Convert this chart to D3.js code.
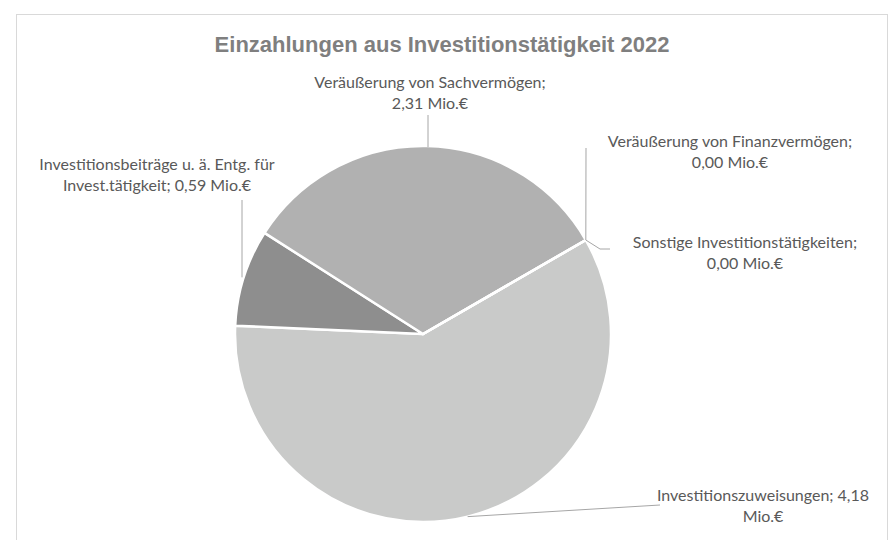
<!DOCTYPE html>
<html>
<head>
<meta charset="utf-8">
<script src="https://cdn.jsdelivr.net/npm/d3@7"></script>
<style>
  body { margin: 0; background: #fff; }
</style>
</head>
<body>
<div id="chart"></div>
<script>
/* Pie chart: Einzahlungen aus Investitionstätigkeit 2022 */

const categories = ["Investitionszuweisungen", "Investitionsbeiträge u. ä. Entg. für Invest.tätigkeit",
    "Veräußerung von Sachvermögen", "Veräußerung von Finanzvermögen", "Sonstige Investitionstätigkeiten"];
const values = [4.18, 0.59, 2.31, 0.00, 0.00];
const colors = ["#c9cac9", "#8e8e8e", "#b1b1b1", "#b9b9b9", "#a5a5a5"];
// label text lines for each slice
const labelLines = [
    ["Investitionszuweisungen; 4,18", "Mio.€"],
    ["Investitionsbeiträge u. ä. Entg. für", "Invest.tätigkeit; 0,59 Mio.€"],
    ["Veräußerung von Sachvermögen;", "2,31 Mio.€"],
    ["Veräußerung von Finanzvermögen;", "0,00 Mio.€"],
    ["Sonstige Investitionstätigkeiten;", "0,00 Mio.€"]
];

const width = 893, height = 540,
    cx = 423, cy = 334, radius = 188;

const data = categories.map((c, i) => ({name: c, value: values[i], lines: labelLines[i]}));

let svg = d3.select("#chart")
    .append("svg")
    .attr("width", width)
    .attr("height", height);

// chart frame
svg.append("rect")
    .attr("x", 16.5).attr("y", 14.5)
    .attr("width", 871).attr("height", 540)
    .attr("fill", "#fff")
    .attr("stroke", "#d9d9d9");

svg.append("text")
    .attr("x", 442).attr("y", 52)
    .attr("text-anchor", "middle")
    .attr("font-family", "Liberation Sans, Arial, sans-serif")
    .attr("font-weight", "bold")
    .attr("font-size", 22)
    .attr("fill", "#7f7f7f")
    .text("Einzahlungen aus Investitionstätigkeit 2022");

const start = 60 * Math.PI / 180;   // first slice angle, like excel
let pie = d3.pie()
    .sort(null)
    .value(d => d.value)
    .startAngle(start)
    .endAngle(start + 2 * Math.PI);

let arc = d3.arc().innerRadius(0).outerRadius(radius);

const arcs = pie(data);

let g = svg.append("g")
    .attr("transform", `translate(${cx},${cy})`);

g.selectAll("path")
    .data(arcs)
    .join("path")
    .attr("d", arc)
    .attr("fill", (d, i) => colors[i])
    .attr("stroke", "#fff")
    .attr("stroke-width", 2.5)
    .attr("stroke-linejoin", "round");

// label placement (label centre x, first baseline y) and leader end points
const labelPos = [
    {x: 763, y: 501, leader: [[660, 505]]},
    {x: 157, y: 170, leader: [[242, 200]]},
    {x: 430, y: 88, leader: [[428, 115]]},
    {x: 730, y: 147, leader: [[586, 148]]},
    {x: 745, y: 248, leader: [[600, 249], [610, 249]]}
];

const point = a => [cx + radius * Math.sin(a), cy - radius * Math.cos(a)];

arcs.forEach((d, i) => {
    const mid = (d.startAngle + d.endAngle) / 2;
    let p0 = point(mid);
    let pts = [p0].concat(labelPos[i].leader);
    if (i == 1) pts = [[242, p0[1]], [242, 200]];
    if (i == 2) pts = [[428, p0[1] + 1], [428, 115]];
    svg.append("path")
        .attr("d", d3.line()(pts))
        .attr("fill", "none")
        .attr("stroke", "#a6a6a6")
        .attr("stroke-width", 1);

    let t = svg.append("text")
        .attr("text-anchor", "middle")
        .attr("font-family", "Lato, sans-serif")
        .attr("font-size", 16)
        .attr("fill", "#595959");
    d.data.lines.forEach((l, j) => {
        t.append("tspan")
            .attr("x", labelPos[i].x)
            .attr("y", labelPos[i].y + j * 21)
            .text(l);
    });
});
</script>
</body>
</html>
